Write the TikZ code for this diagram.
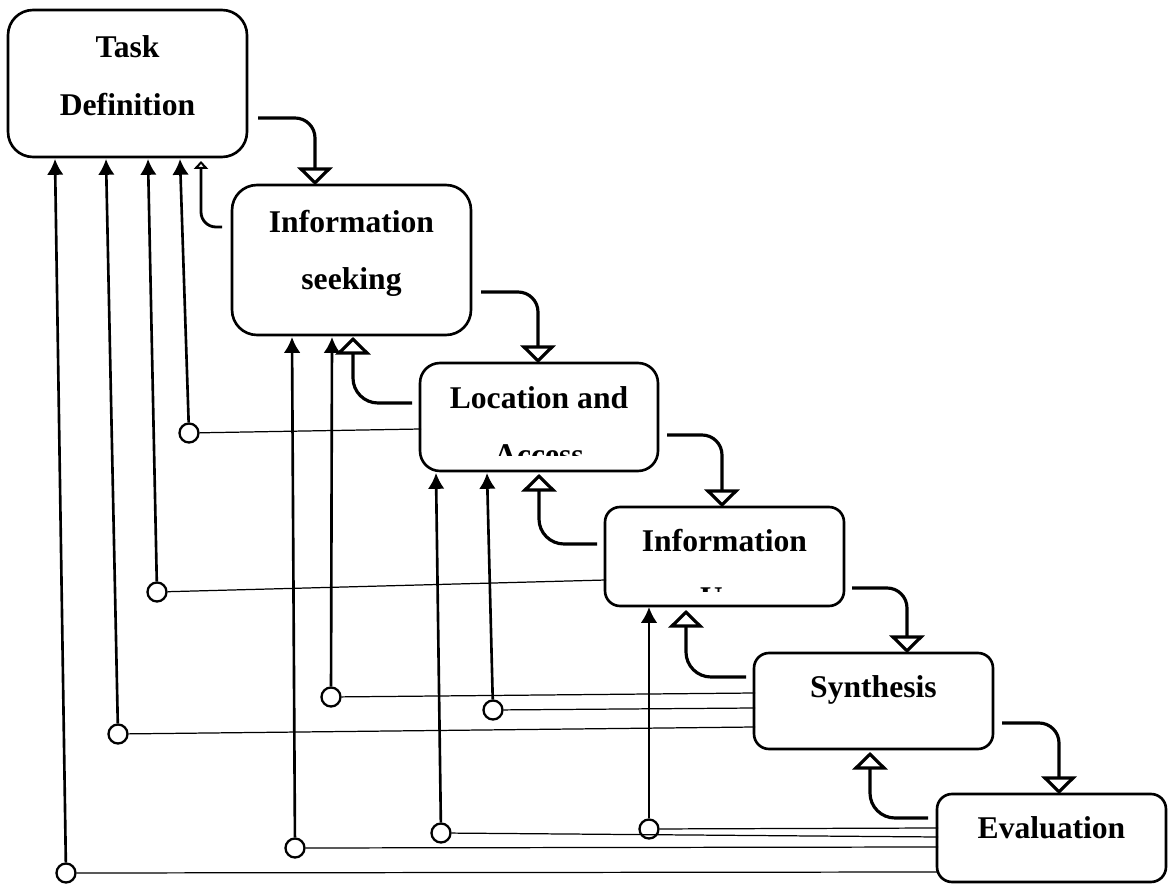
\documentclass[tikz,border=0pt]{standalone}
\usepackage{fontspec}
\setmainfont{Liberation Serif}
\usetikzlibrary{arrows.meta}

\begin{document}
\begin{tikzpicture}[x=0.02cm, y=-0.02cm,
  boite/.style={draw, rectangle, line width=1.5pt, rounded corners=#1, inner sep=0pt},
  boite/.default=0.3cm,
  etiq/.style={anchor=base, inner sep=0pt, font=\fontsize{18}{20}\selectfont\bfseries},
  avance/.style={line width=1.8pt, rounded corners=0.4cm, -{Triangle[open, width=20pt, length=10pt]}},
  retour/.style={line width=1.8pt, rounded corners=0.5cm, -{Triangle[open, width=20pt, length=10pt]}},
  fleche/.style={line width=1.5pt, -{Latex[length=9pt, width=9.5pt]}},
  fil/.style={line width=0.7pt},
  rond/.style={draw, circle, line width=1.3pt, minimum size=0.38cm, inner sep=0pt, fill=white}]

  \useasboundingbox (0,0) rectangle (1170,884);

  % Les six étapes
  \node[boite=0.5cm, minimum width=4.78cm, minimum height=2.94cm] (tache) at (127.5,83.5) {};
  \node[boite=0.5cm, minimum width=4.78cm, minimum height=3.00cm] (recherche) at (351.5,260) {};
  \node[boite=0.4cm, minimum width=4.76cm, minimum height=2.16cm] (acces) at (539,417) {};
  \node[boite, minimum width=4.78cm, minimum height=1.98cm] (usage) at (724.5,556.5) {};
  \node[boite, minimum width=4.78cm, minimum height=1.92cm] (synthese) at (873.5,701) {};
  \node[boite, minimum width=4.58cm, minimum height=1.76cm] (evaluation) at (1051.5,838) {};

  % Textes
  \node[etiq] (tache1) at (127.5,58) {Task};
  \node[etiq] (tache2) at (127.5,116) {Definition};
  \node[etiq] (recherche1) at (351.5,233) {Information};
  \node[etiq] (recherche2) at (351.5,290) {seeking};
  \node[etiq] (acces1) at (539,409) {Location and};
  \node[etiq] (usage1) at (724.5,552) {Information};
  \node[etiq] (synthese1) at (873.5,698) {Synthesis};
  \node[etiq] (evaluation1) at (1051.5,838) {Evaluation};

  % Deuxièmes lignes coupées par la boîte
  \begin{scope}
    \clip (420,363) rectangle (658,456);
    \node[etiq] (acces2) at (539,466) {Access};
  \end{scope}
  \begin{scope}
    \clip (605,507) rectangle (844,592);
    \node[etiq] (usage2) at (724.5,609) {Use};
  \end{scope}

  % Flèches vers l'étape suivante
  \coordinate (tache-o) at (258,118);     \coordinate (recherche-i) at (315,185);
  \coordinate (recherche-o) at (481,292); \coordinate (acces-i) at (538,363);
  \coordinate (acces-o) at (667,435);     \coordinate (usage-i) at (722,507);
  \coordinate (usage-o) at (852,588);     \coordinate (synthese-i) at (907,653);
  \coordinate (synthese-o) at (1002,723); \coordinate (evaluation-i) at (1059,794);
  \draw[avance] (tache-o) -| (recherche-i);
  \draw[avance] (recherche-o) -| (acces-i);
  \draw[avance] (acces-o) -| (usage-i);
  \draw[avance] (usage-o) -| (synthese-i);
  \draw[avance] (synthese-o) -| (evaluation-i);

  % Flèches de retour vers l'étape précédente
  \coordinate (r-recherche) at (222,227); \coordinate (r-tache) at (201,161);
  \coordinate (r-acces) at (412,403);     \coordinate (r-recherche2) at (353,337);
  \coordinate (r-usage) at (597,544);     \coordinate (r-acces2) at (539,474);
  \coordinate (r-synthese) at (746,677);  \coordinate (r-usage2) at (686,610);
  \coordinate (r-evaluation) at (928,818); \coordinate (r-synthese2) at (870,752);
  \draw[line width=1.6pt, rounded corners=0.3cm, -{Triangle[open, width=8pt, length=4.5pt]}] (r-recherche) -| (r-tache);
  \draw[retour] (r-acces) -| (r-recherche2);
  \draw[retour] (r-usage) -| (r-acces2);
  \draw[retour] (r-synthese) -| (r-usage2);
  \draw[retour] (r-evaluation) -| (r-synthese2);

  % Points d'arrivée sous les boîtes
  \coordinate (pt1) at (55,159);  \coordinate (pt2) at (106,159);
  \coordinate (pt3) at (148,159); \coordinate (pt4) at (180,159);
  \coordinate (pr1) at (292,337); \coordinate (pr2) at (332,337);
  \coordinate (pa1) at (436,473); \coordinate (pa2) at (487,473);
  \coordinate (pu1) at (649,607);

  % Points de départ sur les boîtes
  \coordinate (da) at (421,429);
  \coordinate (du) at (606,580);
  \coordinate (ds1) at (755,693); \coordinate (ds2) at (755,708); \coordinate (ds3) at (755,727);
  \coordinate (de1) at (938,828); \coordinate (de2) at (938,837);
  \coordinate (de3) at (938,847); \coordinate (de4) at (938,872);

  % Ronds
  \node[rond] (c1) at (189,433) {};
  \node[rond] (c2) at (157,592) {};
  \node[rond] (c3) at (331,697) {};
  \node[rond] (c4) at (493,710) {};
  \node[rond] (c5) at (118,734) {};
  \node[rond] (c6) at (649,829) {};
  \node[rond] (c7) at (441,833) {};
  \node[rond] (c8) at (295,848) {};
  \node[rond] (c9) at (66,873) {};

  % Fils fins vers les ronds
  \draw[fil] (da) -- (c1);
  \draw[fil] (du) -- (c2);
  \draw[fil] (ds1) -- (c3);
  \draw[fil] (ds2) -- (c4);
  \draw[fil] (ds3) -- (c5);
  \draw[fil] (de1) -- (c6);
  \draw[fil] (de2) -- (c7);
  \draw[fil] (de3) -- (c8);
  \draw[fil] (de4) -- (c9);

  % Remontées vers les étapes
  \draw[fleche] (c1) -- (pt4);
  \draw[fleche] (c2) -- (pt3);
  \draw[fleche] (c3) -- (pr2);
  \draw[fleche] (c4) -- (pa2);
  \draw[fleche] (c5) -- (pt2);
  \draw[fleche] (c6) -- (pu1);
  \draw[fleche] (c7) -- (pa1);
  \draw[fleche] (c8) -- (pr1);
  \draw[fleche] (c9) -- (pt1);
\end{tikzpicture}
\end{document}
